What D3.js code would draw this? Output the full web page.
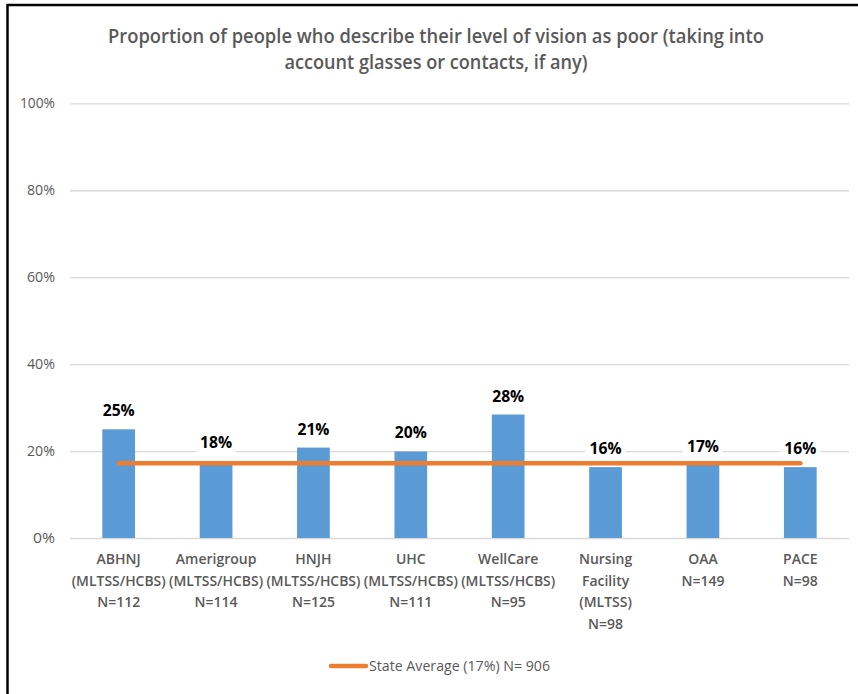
<!DOCTYPE html>
<html><head><meta charset="utf-8">
<script src="https://cdn.jsdelivr.net/npm/d3@7"></script>
<style>
body{margin:0;background:#fff;}
svg{display:block;font-family:"Open Sans","Liberation Sans",sans-serif;}
</style></head>
<body><svg id="c" width="858" height="694"></svg>
<script>
const categories = [
  ["ABHNJ","(MLTSS/HCBS)","N=112"],
  ["Amerigroup","(MLTSS/HCBS)","N=114"],
  ["HNJH","(MLTSS/HCBS)","N=125"],
  ["UHC","(MLTSS/HCBS)","N=111"],
  ["WellCare","(MLTSS/HCBS)","N=95"],
  ["Nursing","Facility","(MLTSS)","N=98"],
  ["OAA","N=149"],
  ["PACE","N=98"]
];
const values = [25.0, 17.6, 20.8, 19.9, 28.4, 16.3, 16.8, 16.3];
const valueLabels = ["25%","18%","21%","20%","28%","16%","17%","16%"];
const stateAverage = [17.2,17.2,17.2,17.2,17.2,17.2,17.2,17.2];
const yTicks = [0,20,40,60,80,100];
const title = ["Proportion of people who describe their level of vision as poor (taking into","account glasses or contacts, if any)"];
const legendLabel = "State Average (17%) N= 906";

const svg = d3.select("#c");
const pLeft = 70, pRight = 849, pTop = 103.3, pBottom = 538;
const x = d3.scaleBand().domain(d3.range(categories.length)).range([pLeft,pRight]).padding(0);
const y = d3.scaleLinear().domain([0,100]).range([pBottom, pTop]);
const barW = x.bandwidth()*0.336;
const titleWidths = [656, 303];

// border
svg.append("path").attr("d","M7.5,694 V5 H858").attr("fill","none").attr("stroke","#000").attr("stroke-width",2.5);

// title
svg.append("g").selectAll("text").data(title).join("text")
  .attr("x",436).attr("y",(d,i)=>43+i*26).attr("text-anchor","middle")
  .attr("fill","#595959").attr("font-size",20).attr("font-weight",600)
  .attr("font-family","'Open Sans',sans-serif")
  .attr("textLength",(d,i)=>titleWidths[i]).attr("lengthAdjust","spacingAndGlyphs")
  .text(d=>d);

// grid + y axis
const yAxis = d3.axisLeft(y).tickValues(yTicks).tickFormat(d=>d+"%").tickSize(-(pRight-pLeft)).tickPadding(15);
const ga = svg.append("g").attr("transform",`translate(${pLeft},0)`).call(yAxis);
ga.select(".domain").remove();
ga.selectAll(".tick line").attr("stroke","#d9d9d9").attr("stroke-width",1.3);
ga.selectAll(".tick text").attr("fill","#595959").attr("font-size",14).attr("font-family","'Open Sans',sans-serif")
  .attr("textLength",d=>d===100?35:(d===0?22:28)).attr("lengthAdjust","spacingAndGlyphs");

// bars
svg.append("g").selectAll("rect").data(values).join("rect")
  .attr("x",(d,i)=>x(i)+x.bandwidth()/2-barW/2).attr("width",barW)
  .attr("y",d=>y(d)).attr("height",d=>y(0)-y(d)).attr("fill","#5b9bd5");

// state average line
const line = d3.line().x((d,i)=>x(i)+x.bandwidth()/2).y(d=>y(d));
svg.append("path").datum(stateAverage).attr("d",line).attr("fill","none")
  .attr("stroke","#ed7d31").attr("stroke-width",4.5).attr("stroke-linecap","round");

// value labels with white background
const lg = svg.append("g").selectAll("g").data(values).join("g")
  .attr("transform",(d,i)=>`translate(${x(i)+x.bandwidth()/2},${y(d)-13})`);
lg.append("rect").attr("x",-20).attr("y",-14).attr("width",40).attr("height",20).attr("fill","#fff");
lg.append("text").attr("text-anchor","middle").attr("font-size",15.5).attr("font-weight",700)
  .attr("fill","#000").attr("font-family","'Open Sans',sans-serif")
  .attr("textLength",32).attr("lengthAdjust","spacingAndGlyphs")
  .text((d,i)=>valueLabels[i]);

// category labels
const cg = svg.append("g").selectAll("text").data(categories).join("text")
  .attr("y",564)
  .attr("text-anchor","middle").attr("fill","#595959").attr("font-size",14).attr("font-weight",600)
  .attr("font-family","'Open Sans',sans-serif");
cg.each(function(d,i){
  const t = d3.select(this);
  const cx = x(i)+x.bandwidth()/2;
  t.selectAll("tspan").data(d).join("tspan")
    .attr("x",cx).attr("dy",(s,j)=>j===0?0:21.5)
    .attr("textLength",s=>s==="(MLTSS/HCBS)"?94:null).attr("lengthAdjust","spacingAndGlyphs")
    .text(s=>s);
});

// legend
svg.append("line").attr("x1",331).attr("x2",366).attr("y1",666).attr("y2",666)
  .attr("stroke","#ed7d31").attr("stroke-width",4.5).attr("stroke-linecap","round");
svg.append("text").attr("x",369).attr("y",671).attr("fill","#595959").attr("font-size",14)
  .attr("font-family","'Open Sans',sans-serif").attr("textLength",181).attr("lengthAdjust","spacingAndGlyphs")
  .text(legendLabel);
</script></body></html>
